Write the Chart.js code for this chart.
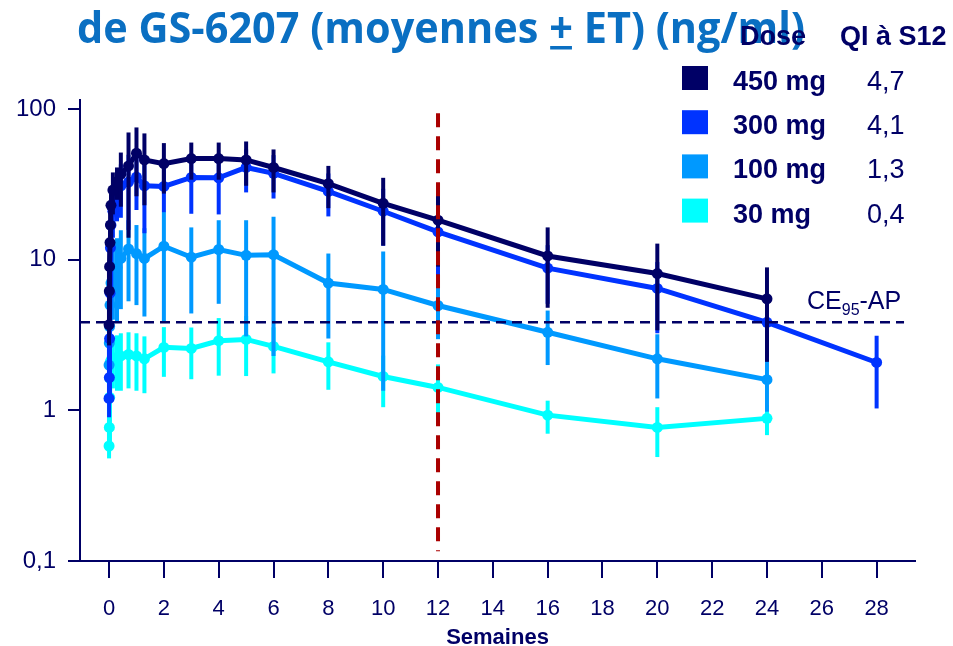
<!DOCTYPE html>
<html>
<head>
<meta charset="utf-8">
<script src="https://cdn.jsdelivr.net/npm/chart.js@4.4.1/dist/chart.umd.min.js"></script>
<style>
  html, body { margin: 0; padding: 0; background: #fff; }
</style>
</head>
<body>
<canvas id="myChart" width="953" height="646"></canvas>
<script>
// semaines (les premiers points = heures / jours)
const weeks = [0, 0.01, 0.02, 0.035, 0.05, 0.07, 0.14, 0.29, 0.43, 0.71, 1.0, 1.29, 2, 3, 4, 5, 6, 8, 10, 12, 16, 20, 24, 28];

const dose450 = [3.7, 6.2, 9, 13, 17, 23, 29, 33, 37, 42, 51, 46, 43.5, 47, 47, 46, 41, 32, 23.7, 18.3, 10.6, 8.1, 5.5, null];
const sd450 = [1, 1.5, 2.5, 3.5, 5, 7, 9, 8, 14.5, 28, 24.6, 23, 16, 13, 13, 15, 13, 10, 11.3, 9.3, 5.8, 4.7, 3.4, null];

const dose300 = [1.2, 1.65, 3.0, 6, 12, 17, 21, 28, 31, 32.8, 35.4, 31, 30.7, 35.2, 35, 41, 37.5, 28.4, 21, 15.3, 8.8, 6.45, 3.84, 2.08];
const sd300 = [0.3, 0.5, 0.8, 1.5, 3, 5, 7, 10, 12, 17, 14, 16, 10, 15, 15, 13, 12, 9, 8.6, 7.4, 3.7, 3.2, 1.6, 1.05];

const dose100 = [2.0, 2.8, 3.6, 5.0, 6.2, 7.0, 8.0, 8.9, 10.2, 11.8, 11, 10.2, 12.3, 10.4, 11.7, 10.7, 10.8, 7.0, 6.35, 4.97, 3.3, 2.2, 1.6, null];
const sd100 = [0.5, 0.8, 1, 1.5, 2, 3, 4, 5, 5.5, 6.5, 6, 6, 8.5, 6, 6.6, 7.6, 8.5, 4, 5, 2, 1.3, 1.0, 0.62, null];

const dose30 = [0.58, 0.77, 1.22, 1.63, 2.09, 2.15, 2.2, 2.25, 2.3, 2.35, 2.3, 2.2, 2.62, 2.58, 2.9, 2.96, 2.66, 2.1, 1.68, 1.42, 0.93, 0.77, 0.885, null];
const sd30 = [0.1, 0.15, 0.25, 0.4, 0.6, 0.7, 0.8, 0.9, 0.95, 0.95, 0.95, 0.9, 0.95, 0.97, 1.2, 1.27, 0.9, 0.73, 0.63, 0.6, 0.23, 0.28, 0.2, null];

const doseLabels = ["450 mg", "300 mg", "100 mg", "30 mg"];
const qiS12 = ["4,7", "4,1", "1,3", "0,4"];
const xTicks = [0, 2, 4, 6, 8, 10, 12, 14, 16, 18, 20, 22, 24, 26, 28];
const yTicks = [0.1, 1, 10, 100];
const ce95 = 3.84;
const refWeek = 12;

const navy = "#000066";
const colors = ["#000066", "#0033ff", "#0099ff", "#00ffff"];
const allMeans = [dose450, dose300, dose100, dose30];
const allSd = [sd450, sd300, sd100, sd30];
const fontFam = '"Liberation Sans", Arial, sans-serif';

function toPoints(vals) {
  var pts = [];
  vals.forEach(function (v, i) {
    if (v !== null) pts.push({ x: weeks[i], y: v });
  });
  return pts;
}

var datasets = allMeans.map(function (vals, k) {
  return {
    label: doseLabels[k],
    data: toPoints(vals),
    borderColor: colors[k],
    backgroundColor: colors[k],
    borderWidth: 5,
    pointRadius: 5.5,
    pointBorderWidth: 0,
    pointHoverRadius: 5.5,
    tension: 0,
    sd: allSd[k],
    means: vals,
  };
});

const extras = {
  id: "extras",
  beforeDatasetDraw(chart, args) {
    // barres d'erreur (moyenne +/- ET)
    const ds = chart.data.datasets[args.index];
    const xs = chart.scales.x, ys = chart.scales.y;
    const ctx = chart.ctx;
    ctx.save();
    ctx.strokeStyle = ds.borderColor;
    ctx.lineWidth = 4;
    ds.means.forEach(function (m, i) {
      if (m === null) return;
      var hi = m + ds.sd[i];
      var lo = m - ds.sd[i];
      var px = xs.getPixelForValue(weeks[i]);
      var yHi = ys.getPixelForValue(hi);
      var yLo = lo > ys.min ? ys.getPixelForValue(lo) : chart.chartArea.bottom;
      ctx.beginPath();
      ctx.moveTo(px, yHi);
      ctx.lineTo(px, yLo);
      ctx.stroke();
    });
    ctx.restore();
  },
  afterDatasetsDraw(chart) {
    const ctx = chart.ctx;
    const xs = chart.scales.x, ys = chart.scales.y;
    const area = chart.chartArea;
    ctx.save();
    // CE95-AP
    ctx.strokeStyle = navy;
    ctx.lineWidth = 2.5;
    ctx.setLineDash([10, 6]);
    var yc = ys.getPixelForValue(ce95);
    ctx.beginPath();
    ctx.moveTo(area.left, yc);
    ctx.lineTo(xs.getPixelForValue(29), yc);
    ctx.stroke();
    // semaine 12
    ctx.strokeStyle = "#aa0000";
    ctx.lineWidth = 4;
    ctx.setLineDash([14, 9]);
    var xr = xs.getPixelForValue(refWeek);
    ctx.beginPath();
    ctx.moveTo(xr, ys.getPixelForValue(94));
    ctx.lineTo(xr, ys.getPixelForValue(0.116));
    ctx.stroke();
    ctx.setLineDash([]);

    ctx.fillStyle = navy;
    ctx.textBaseline = "alphabetic";
    ctx.textAlign = "left";
    ctx.font = "25px " + fontFam;
    var lx = 807, ly = yc - 13;
    ctx.fillText("CE", lx, ly);
    lx += ctx.measureText("CE").width;
    ctx.font = "16px " + fontFam;
    ctx.fillText("95", lx, ly + 6);
    lx += ctx.measureText("95").width;
    ctx.font = "25px " + fontFam;
    ctx.fillText("-AP", lx, ly);
    ctx.restore();
  },
  afterDraw(chart) {
    const ctx = chart.ctx;
    ctx.save();
    // titre
    var pre = "de GS-6207 (moyennes ", pm = "+", post = " ET) (ng/ml)";
    ctx.font = 'bold 43px "Open Sans", sans-serif';
    var wPre = ctx.measureText(pre).width, wPm = ctx.measureText(pm).width;
    var wAll = ctx.measureText(pre + pm + post).width;
    var sx = 728 / wAll;
    ctx.translate(77, 43);
    ctx.scale(sx, 1);
    ctx.fillStyle = "#0a6fc2";
    ctx.textBaseline = "alphabetic";
    ctx.fillText(pre + pm + post, 0, 0);
    ctx.fillRect(wPre + 1, 3, wPm - 2, 3.5);
    ctx.setTransform(1, 0, 0, 1, 0, 0);

    // légende
    ctx.fillStyle = navy;
    ctx.font = "bold 27px " + fontFam;
    ctx.fillText("Dose", 740, 45);
    ctx.fillText("QI à S12", 840, 45);
    doseLabels.forEach(function (lab, k) {
      var base = 90 + k * 44.2;
      ctx.fillStyle = colors[k];
      ctx.fillRect(682, base - 24, 26, 24);
      ctx.fillStyle = navy;
      ctx.font = "bold 27px " + fontFam;
      ctx.fillText(lab, 733, base);
      ctx.font = "27px " + fontFam;
      ctx.fillText(qiS12[k], 867, base);
    });
    ctx.restore();
  },
};

var ctx = document.getElementById("myChart").getContext("2d");
var chart = new Chart(ctx, {
  type: "line",
  data: { datasets: datasets },
  plugins: [extras],
  options: {
    responsive: false,
    animation: false,
    devicePixelRatio: 1,
    layout: { padding: { top: 100, right: 38, left: 0, bottom: 0 } },
    plugins: {
      legend: { display: false },
      tooltip: { enabled: false },
    },
    scales: {
      x: {
        type: "linear",
        min: -1.06,
        max: 29.4,
        afterBuildTicks: function (s) {
          s.ticks = xTicks.map(function (v) { return { value: v }; });
        },
        afterFit: function (s) { s.height = 85; },
        grid: {
          drawOnChartArea: false,
          drawTicks: true,
          tickLength: 17,
          color: navy,
          lineWidth: 2,
        },
        border: { display: true, color: navy, width: 2 },
        ticks: {
          color: navy,
          font: { family: fontFam, size: 22 },
          padding: 18,
          maxRotation: 0,
          autoSkip: false,
        },
        title: {
          display: true,
          text: "Semaines",
          color: navy,
          font: { family: fontFam, size: 22, weight: "bold" },
          padding: { top: 0, bottom: -5 },
        },
      },
      y: {
        type: "logarithmic",
        min: 0.1,
        max: 115,
        afterBuildTicks: function (s) {
          s.ticks = yTicks.map(function (v) { return { value: v }; });
        },
        afterFit: function (s) { s.width = 80; },
        grid: {
          drawOnChartArea: false,
          drawTicks: true,
          tickLength: 12,
          color: navy,
          lineWidth: 2,
        },
        border: { display: true, color: navy, width: 2 },
        ticks: {
          color: navy,
          font: { family: fontFam, size: 24 },
          padding: 12,
          autoSkip: false,
          callback: function (v) { return String(v).replace(".", ","); },
        },
      },
    },
  },
});
</script>
</body>
</html>
